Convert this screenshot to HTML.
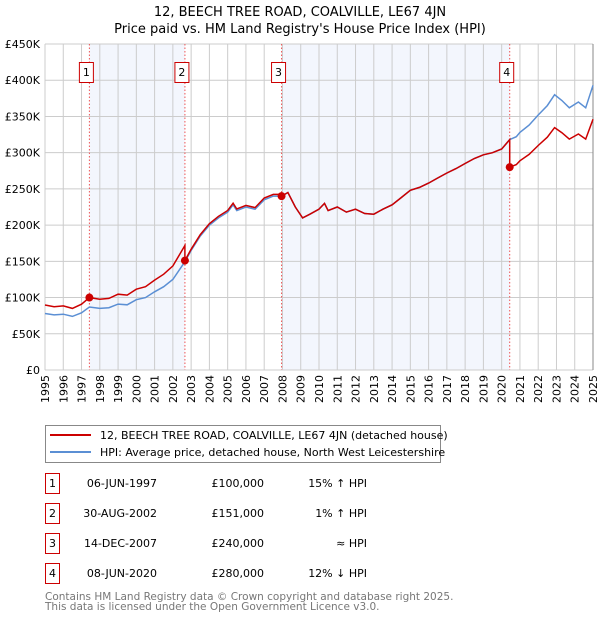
<!DOCTYPE html>
<html><head><meta charset="utf-8"><style>
body{margin:0;background:#fff;font-family:"DejaVu Sans","Liberation Sans",sans-serif;}
#wrap{position:relative;width:600px;height:620px;overflow:hidden;}
svg text{font-family:"DejaVu Sans","Liberation Sans",sans-serif;}
</style></head><body><div id="wrap">
<svg id="chart" width="600" height="620"></svg>
</div>
<script>
const hpiDates=[1995,1995.5,1996,1996.5,1997,1997.43,1998,1998.5,1999,1999.5,2000,2000.5,2001,2001.5,2002,2002.66,2003,2003.5,2004,2004.5,2005,2005.3,2005.5,2006,2006.5,2007,2007.5,2007.95,2008.3,2008.7,2009.1,2009.5,2010,2010.3,2010.5,2011,2011.5,2012,2012.5,2013,2013.5,2014,2014.5,2015,2015.5,2016,2016.5,2017,2017.5,2018,2018.5,2019,2019.5,2020,2020.44,2020.8,2021,2021.5,2022,2022.5,2022.9,2023.3,2023.7,2024.2,2024.6,2025];
const hpiValues=[78,76,77,74,79,87,85,86,91,90,97,100,108,115,125,149.5,165,185,200,210,218,228,220,225,222,235,240,240,245,225,210,215,222,230,220,225,218,222,216,215,222,228,238,248,252,258,265,272,278,285,292,297,300,305,318,322,328,338,352,365,380,372,362,370,362,393];
const saleDates=[1997.43,2002.66,2007.95,2020.44];
const salePrices=[100,151,240,280];
const saleLabels=["1","2","3","4"];
const yTicks=[0,50,100,150,200,250,300,350,400,450];
const xYears=[1995,1996,1997,1998,1999,2000,2001,2002,2003,2004,2005,2006,2007,2008,2009,2010,2011,2012,2013,2014,2015,2016,2017,2018,2019,2020,2021,2022,2023,2024,2025];

const L=45,R=593,T=44,B=370;
const xs=t=>L+(t-1995)/30*(R-L);
const ys=v=>B-v/450*(B-T);
const NS="http://www.w3.org/2000/svg";
const svg=document.getElementById('chart');
function mk(tag,attrs,parent){const e=document.createElementNS(NS,tag);for(const k in attrs)e.setAttribute(k,attrs[k]);(parent||svg).appendChild(e);return e;}
function hpiAt(t){for(let i=1;i<hpiDates.length;i++){if(t<=hpiDates[i]){const f=(t-hpiDates[i-1])/(hpiDates[i]-hpiDates[i-1]);return hpiValues[i-1]+f*(hpiValues[i]-hpiValues[i-1]);}}return hpiValues[hpiValues.length-1];}

let t1=mk('text',{x:300,y:16,'text-anchor':'middle','font-size':13,fill:'#000'});t1.textContent="12, BEECH TREE ROAD, COALVILLE, LE67 4JN";


let t2=mk('text',{x:300,y:33,'text-anchor':'middle','font-size':13,fill:'#000'});t2.textContent="Price paid vs. HM Land Registry's House Price Index (HPI)";



[[0,1],[2,3]].forEach(([a,b])=>{const r=mk('rect',{x:xs(saleDates[a]),y:T,width:xs(saleDates[b])-xs(saleDates[a]),height:B-T,fill:'#f3f6fd'});

});

xYears.forEach(y=>{const l=mk('line',{x1:xs(y),x2:xs(y),y1:T,y2:B,stroke:'#cccccc','stroke-width':1});


const tx=mk('text',{transform:`translate(${xs(y)+4},${B+5}) rotate(-90)`,'text-anchor':'end','font-size':11,fill:'#000'});tx.textContent=y;

});
yTicks.forEach(v=>{const l=mk('line',{x1:L,x2:R,y1:ys(v),y2:ys(v),stroke:'#cccccc','stroke-width':1});


const tx=mk('text',{x:40,y:ys(v)+4,'text-anchor':'end','font-size':11,fill:'#000'});tx.textContent=v===0?'£0':'£'+v+'K';

});
mk('line',{x1:R,x2:R,y1:T,y2:B,stroke:'#888','stroke-width':1});

saleDates.forEach((d,i)=>{const l=mk('line',{x1:xs(d),x2:xs(d),y1:T,y2:B,stroke:'#ee5555','stroke-width':1,'stroke-dasharray':'1.5,2'});


const g=mk('g',{});


mk('rect',{x:xs(d)-10,y:62.5,width:14,height:20,fill:'#fff',stroke:'#cc0000','stroke-width':1},g);
const tx=mk('text',{x:xs(d)-3,y:76,'text-anchor':'middle','font-size':11,fill:'#000'},g);tx.textContent=saleLabels[i];});

let dh='';hpiDates.forEach((d,i)=>{dh+=(i?'L':'M')+xs(d).toFixed(1)+','+ys(hpiValues[i]).toFixed(1);});
const hp=mk('path',{d:dh,fill:'none',stroke:'#5b8fd4','stroke-width':1.5});



function ratioFor(t){let k=0;for(let i=0;i<saleDates.length;i++){if(t>=saleDates[i])k=i;}return salePrices[k]/hpiAt(saleDates[k]);}
let pts=[];hpiDates.forEach((d,i)=>pts.push([d,hpiValues[i]*ratioFor(d)]));
saleDates.forEach((d,i)=>{if(i>0)pts.push([d-0.001,hpiAt(d)*salePrices[i-1]/hpiAt(saleDates[i-1])]);pts.push([d,salePrices[i]]);});
pts.sort((a,b)=>a[0]-b[0]);
let dr='';pts.forEach((p,i)=>{dr+=(i?'L':'M')+xs(p[0]).toFixed(1)+','+ys(p[1]).toFixed(1);});
const rp=mk('path',{d:dr,fill:'none',stroke:'#cc0000','stroke-width':1.5});


saleDates.forEach((d,i)=>{const c=mk('circle',{cx:xs(d),cy:ys(salePrices[i]),r:4,fill:'#cc0000'});

});

const lg=mk('g',{});


mk('rect',{x:45.5,y:425.5,width:395,height:37,fill:'#fff',stroke:'#888','stroke-width':1},lg);
mk('line',{x1:50,x2:91,y1:435,y2:435,stroke:'#cc0000','stroke-width':2},lg);
mk('line',{x1:50,x2:91,y1:452,y2:452,stroke:'#5b8fd4','stroke-width':2},lg);
let le1=mk('text',{x:100,y:439,'font-size':11,fill:'#000'},lg);le1.textContent="12, BEECH TREE ROAD, COALVILLE, LE67 4JN (detached house)";


let le2=mk('text',{x:100,y:456,'font-size':11,fill:'#000'},lg);le2.textContent="HPI: Average price, detached house, North West Leicestershire";



const tDates=["06-JUN-1997","30-AUG-2002","14-DEC-2007","08-JUN-2020"];
const tPrices=["£100,000","£151,000","£240,000","£280,000"];
const tRel=["15% ↑ HPI","1% ↑ HPI","≈ HPI","12% ↓ HPI"];
tDates.forEach((d,i)=>{const cy=483+i*30;const g=mk('g',{});


mk('rect',{x:45.5,y:cy-9.5,width:14,height:20,fill:'#fff',stroke:'#cc0000','stroke-width':1},g);
let a=mk('text',{x:52.5,y:cy+4,'text-anchor':'middle','font-size':11},g);a.textContent=saleLabels[i];
let b=mk('text',{x:157,y:cy+4,'text-anchor':'end','font-size':11},g);b.textContent=d;
let c=mk('text',{x:264,y:cy+4,'text-anchor':'end','font-size':11},g);c.textContent=tPrices[i];
let e=mk('text',{x:367,y:cy+4,'text-anchor':'end','font-size':11},g);e.textContent=tRel[i];});

let f1=mk('text',{x:45,y:600,'font-size':10.5,fill:'#777'});f1.textContent="Contains HM Land Registry data © Crown copyright and database right 2025.";


let f2=mk('text',{x:45,y:610,'font-size':10.5,fill:'#777'});f2.textContent="This data is licensed under the Open Government Licence v3.0.";


</script></body></html>
